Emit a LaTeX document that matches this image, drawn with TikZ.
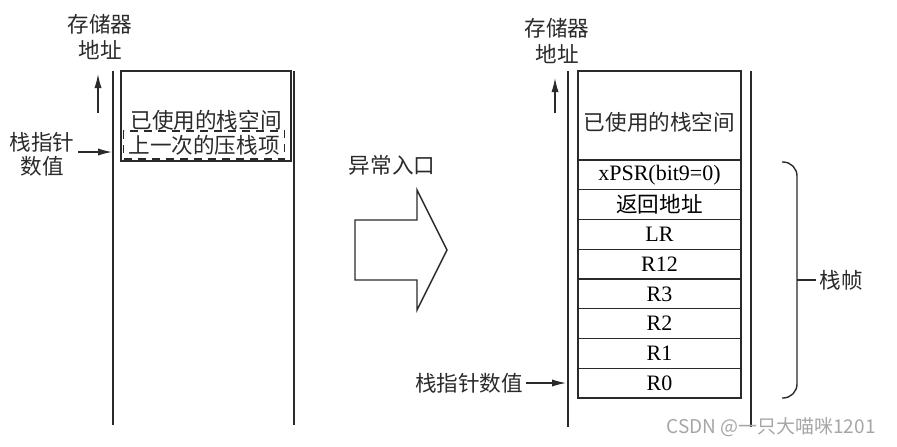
\documentclass[tikz,border=0pt]{standalone}
\usepackage{fontspec}
\setmainfont{Liberation Serif}
\newfontfamily\cjk{Noto Sans CJK SC}
\usetikzlibrary{positioning, arrows.meta}
\definecolor{inkgray}{HTML}{2A2A2A}
\definecolor{markgray}{HTML}{A6A6A6}

\tikzset{
  wall/.style={line width=0.9pt, draw=inkgray},
  box/.style={draw=inkgray, line width=0.7pt, inner sep=0pt, outer sep=0pt},
  cell/.style={box, minimum width=81.5pt, minimum height=14.875pt,
               font=\fontsize{11}{13}\selectfont},
  cjktext/.style={text=inkgray, inner sep=1.5pt, font=\cjk\fontsize{10.8}{13}\selectfont},
  ptr/.style={draw=inkgray, line width=0.6pt, -{Latex[length=7pt,width=3.6pt]}},
}

\begin{document}
\begin{tikzpicture}[x=0.5pt, y=-0.5pt]
  \useasboundingbox (0,0) rectangle (897,446);

  % stack before the exception
  \draw[wall] (113,71) -- (113,425);
  \draw[wall] (294,71) -- (294,425);
  \node[box, minimum width=85pt, minimum height=45pt] (lused) at (206,116) {};
  \node[cjktext] (lusedtxt) at (206,120) {已使用的栈空间};
  \node[cjktext, draw=inkgray, line width=0.6pt, dash pattern=on 4pt off 3pt,
        minimum width=80.5pt, minimum height=14pt, inner sep=0pt] (lastpush) at (204,145)
        {上一次的压栈项};
  \node[cjktext, align=center] (laddr) at (100,37) {存储器\\地址};
  \coordinate (lup) at (98,113);
  \draw[ptr, shorten >=5.5pt] (lup) -- (lup |- laddr.south);
  \node[cjktext, align=center, font=\cjk\fontsize{10.8}{12}\selectfont] (lsp) at (42,154) {栈指针\\数值};
  \coordinate (lspin) at (112,152);
  \draw[ptr] (lsp.east |- lspin) -- (lspin);

  % exception entry
  \node[cjktext] (exc) at (392,165) {异常入口};
  \draw[draw=inkgray, line width=0.7pt, line join=miter]
    (355,220) -- (417,220) -- (417,190) -- (447,250) -- (417,310) -- (417,280) -- (355,280) -- cycle;

  % stack after the exception
  \draw[wall] (568,71) -- (568,427);
  \draw[wall] (751,71) -- (751,427);
  \node[box, minimum width=81.5pt, minimum height=44.5pt] (rused) at (659.5,115.5) {};
  \node[cjktext] (rusedtxt) at (659.5,122) {已使用的栈空间};
  \node[cell, below=0pt of rused] (xpsr) {xPSR(bit9=0)};
  \node[cell, below=0pt of xpsr, font=\cjk\fontsize{10.8}{13}\selectfont] (retaddr) {返回地址};
  \node[cell, below=0pt of retaddr] (lr) {LR};
  \node[cell, below=0pt of lr] (r12) {R12};
  \node[cell, below=0pt of r12] (r3) {R3};
  \node[cell, below=0pt of r3] (r2) {R2};
  \node[cell, below=0pt of r2] (r1) {R1};
  \node[cell, below=0pt of r1] (r0) {R0};
  \node[cjktext, align=center] (raddr) at (557,41) {存储器\\地址};
  \coordinate (rup) at (555,113);
  \draw[ptr, shorten >=5.5pt] (rup) -- (rup |- raddr.south);
  \node[cjktext] (rsp) at (469,383) {栈指针数值};
  \coordinate (rspin) at (566,383);
  \draw[ptr] (rsp.east) -- (rspin);

  % stack frame brace
  \draw[draw=inkgray, line width=0.7pt, rounded corners=7pt]
    (782,162) -- (797,162) -- (797,398) -- (782,398);
  \node[cjktext] (frame) at (841,280) {栈帧};
  \coordinate (bmid) at (797,280);
  \draw[draw=inkgray, line width=0.7pt] (bmid) -- (frame.west);

  \node[text=markgray, font=\cjk\fontsize{9.5}{11}\selectfont] (mark) at (771,427) {CSDN @一只大喵咪1201};
\end{tikzpicture}
\end{document}
